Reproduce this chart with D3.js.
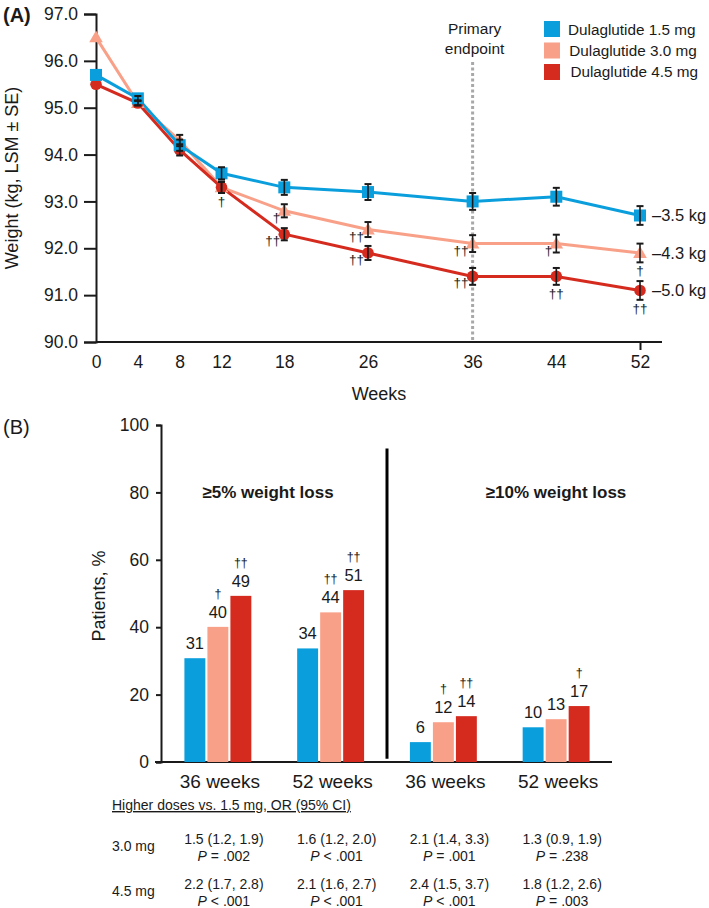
<!DOCTYPE html>
<html><head><meta charset="utf-8">
<script src="https://cdn.jsdelivr.net/npm/d3@7"></script>
<style>
body{margin:0;background:#fff}
svg{display:block}
text{font-family:"Liberation Sans",Arial,sans-serif;fill:#1a1a1a}
</style>
</head><body><svg id="c" width="709" height="908"></svg>
<script>
// ---------- Panel A data ----------
const weeks = [0, 4, 8, 12, 18, 26, 36, 44, 52];
const seriesNames = ["Dulaglutide 1.5 mg", "Dulaglutide 3.0 mg", "Dulaglutide 4.5 mg"];
const colors = ["#0a9fdc", "#f9a088", "#d52b1f"];
const weight15 = [95.7, 95.2, 94.2, 93.6, 93.3, 93.2, 93.0, 93.1, 92.7];
const weight30 = [96.5, 95.1, 94.3, 93.3, 92.8, 92.4, 92.1, 92.1, 91.9];
const weight45 = [95.5, 95.1, 94.1, 93.3, 92.3, 91.9, 91.4, 91.4, 91.1];
const se15 = [0, 0.05, 0.12, 0.13, 0.16, 0.17, 0.18, 0.19, 0.2];
const se30 = [0, 0.05, 0.12, 0.12, 0.14, 0.16, 0.18, 0.19, 0.2];
const se45 = [0, 0.05, 0.12, 0.12, 0.13, 0.15, 0.18, 0.18, 0.2];
const endLabels = ["\u20133.5 kg", "\u20134.3 kg", "\u20135.0 kg"];
const yTicksA = [90, 91, 92, 93, 94, 95, 96, 97];
const sigA = [
  {week: 12, s: 1, mark: "\u2020", pos: "below"},
  {week: 18, s: 1, mark: "\u2020", pos: "left"},
  {week: 18, s: 2, mark: "\u2020\u2020", pos: "left"},
  {week: 26, s: 1, mark: "\u2020\u2020", pos: "left"},
  {week: 26, s: 2, mark: "\u2020\u2020", pos: "left"},
  {week: 36, s: 1, mark: "\u2020\u2020", pos: "left"},
  {week: 36, s: 2, mark: "\u2020\u2020", pos: "left"},
  {week: 44, s: 1, mark: "\u2020", pos: "left"},
  {week: 44, s: 2, mark: "\u2020\u2020", pos: "below"},
  {week: 52, s: 1, mark: "\u2020", pos: "below"},
  {week: 52, s: 2, mark: "\u2020\u2020", pos: "below"}
];
const primaryWeek = 36;

// ---------- Panel B data ----------
const barGroups = ["5-36", "5-52", "10-36", "10-52"];
const barGroupLabels = ["36 weeks", "52 weeks", "36 weeks", "52 weeks"];
const pct15 = [30.8, 33.7, 5.9, 10.3];
const pct30 = [40.1, 44.4, 11.8, 12.7];
const pct45 = [49.3, 51.0, 13.6, 16.6];
const lab15 = ["31", "34", "6", "10"];
const lab30 = ["40", "44", "12", "13"];
const lab45 = ["49", "51", "14", "17"];
const sig30 = ["\u2020", "\u2020\u2020", "\u2020", ""];
const sig45 = ["\u2020\u2020", "\u2020\u2020", "\u2020\u2020", "\u2020"];
const headings = ["\u22655% weight loss", "\u226510% weight loss"];
const yTicksB = [0, 20, 40, 60, 80, 100];

// ---------- Table data ----------
const tableTitle = "Higher doses vs. 1.5 mg, OR (95% CI)";
const rowLabels = ["3.0 mg", "4.5 mg"];
const or30 = ["1.5 (1.2, 1.9)", "1.6 (1.2, 2.0)", "2.1 (1.4, 3.3)", "1.3 (0.9, 1.9)"];
const p30 = ["= .002", "< .001", "= .001", "= .238"];
const or45 = ["2.2 (1.7, 2.8)", "2.1 (1.6, 2.7)", "2.4 (1.5, 3.7)", "1.8 (1.2, 2.6)"];
const p45 = ["< .001", "< .001", "< .001", "= .003"];

const svg = d3.select("#c");
const ink = "#1a1a1a";
const FONT = "Liberation Sans, Arial, sans-serif";

// =================== PANEL A ===================
const xA = d3.scaleLinear().domain([0, 52]).range([96, 640]);
const yA = d3.scaleLinear().domain([90, 97]).range([342, 14]);
const seriesA = [
  {name: seriesNames[0], vals: weight15, se: se15, color: colors[0], shape: "square"},
  {name: seriesNames[1], vals: weight30, se: se30, color: colors[1], shape: "triangle"},
  {name: seriesNames[2], vals: weight45, se: se45, color: colors[2], shape: "circle"}
];

svg.append("text").attr("x", 3).attr("y", 22).attr("font-size", 20).attr("font-weight", "bold").text("(A)");

// y axis
const gyA = svg.append("g").attr("transform", `translate(${xA(0)},0)`)
  .call(d3.axisLeft(yA).tickValues(yTicksA).tickFormat(d3.format(".1f")).tickSize(12).tickPadding(6));
gyA.select(".domain").attr("stroke", ink).attr("stroke-width", 2);
gyA.selectAll(".tick line").attr("stroke", ink).attr("stroke-width", 2);
gyA.selectAll(".tick text").attr("font-size", 17.5).attr("fill", ink).attr("font-family", FONT);

// x axis
const gxA = svg.append("g").attr("transform", `translate(0,${yA(90)})`)
  .call(d3.axisBottom(xA).tickValues(weeks).tickFormat(d3.format("d")).tickSize(8).tickPadding(6));
gxA.select(".domain").remove();
gxA.selectAll(".tick line").attr("stroke", ink).attr("stroke-width", 2).attr("opacity", d => d === 52 ? 1 : 0);
gxA.selectAll(".tick text").attr("font-size", 17.5).attr("fill", ink).attr("font-family", FONT);
svg.append("line").attr("x1", xA(0)).attr("x2", xA(52) + 22).attr("y1", yA(90)).attr("y2", yA(90))
  .attr("stroke", ink).attr("stroke-width", 2);

svg.append("text").attr("x", 379).attr("y", 400).attr("text-anchor", "middle")
  .attr("font-size", 18).text("Weeks");
svg.append("text").attr("transform", `translate(18,${(yA(90) + yA(97)) / 2}) rotate(-90)`)
  .attr("text-anchor", "middle").attr("font-size", 18).text("Weight (kg, LSM \u00b1 SE)");

// primary endpoint line
svg.append("line").attr("x1", xA(primaryWeek)).attr("x2", xA(primaryWeek)).attr("y1", 62).attr("y2", yA(90))
  .attr("stroke", "#a8a8a8").attr("stroke-width", 3).attr("stroke-dasharray", "3,2.5");
svg.append("text").attr("x", xA(primaryWeek) + 2).attr("y", 34).attr("text-anchor", "middle").attr("font-size", 15.5).text("Primary");
svg.append("text").attr("x", xA(primaryWeek) + 2).attr("y", 54).attr("text-anchor", "middle").attr("font-size", 15.5).text("endpoint");

// legend
const leg = svg.append("g");
seriesNames.forEach((n, i) => {
  leg.append("rect").attr("x", 544).attr("y", 21 + i * 21.5).attr("width", 16).attr("height", 16).attr("fill", colors[i]);
  leg.append("text").attr("x", 568 + i * 1.2).attr("y", 34.5 + i * 21).attr("font-size", 15.3).text(n);
});

// lines
const lineGen = d3.line().x((d, i) => xA(weeks[i])).y(d => yA(d));
[1, 2, 0].forEach(si => {
  const s = seriesA[si];
  svg.append("path").attr("d", lineGen(s.vals)).attr("fill", "none").attr("stroke", s.color).attr("stroke-width", 3);
});
// markers
[1, 2, 0].forEach(si => {
  const s = seriesA[si];
  const g = svg.append("g");
  s.vals.forEach((v, i) => {
    const cx = xA(weeks[i]), cy = yA(v);
    if (s.shape === "square") g.append("rect").attr("x", cx - 6).attr("y", cy - 6).attr("width", 12).attr("height", 12).attr("fill", s.color);
    else if (s.shape === "circle") g.append("circle").attr("cx", cx).attr("cy", cy).attr("r", 5.8).attr("fill", s.color);
    else g.append("path").attr("d", d3.symbol(d3.symbolTriangle, 80)()).attr("transform", `translate(${cx},${cy + 1})`).attr("fill", s.color);
  });
});
// error bars
seriesA.forEach(s => {
  const g = svg.append("g").attr("stroke", ink).attr("stroke-width", 1.6);
  s.vals.forEach((v, i) => {
    if (!s.se[i]) return;
    const cx = xA(weeks[i]), y1 = yA(v + s.se[i]), y2 = yA(v - s.se[i]);
    g.append("line").attr("x1", cx).attr("x2", cx).attr("y1", y1).attr("y2", y2);
    g.append("line").attr("x1", cx - 3.5).attr("x2", cx + 3.5).attr("y1", y1).attr("y2", y1).attr("stroke-width", 2);
    g.append("line").attr("x1", cx - 3.5).attr("x2", cx + 3.5).attr("y1", y2).attr("y2", y2).attr("stroke-width", 2);
  });
});
// significance marks
sigA.forEach(a => {
  const s = seriesA[a.s];
  const i = weeks.indexOf(a.week);
  const cx = xA(a.week), cy = yA(s.vals[i]);
  const t = svg.append("text").attr("font-size", 13.5).attr("fill", "#222").text(a.mark);
  if (a.pos === "left") t.attr("x", cx - 4).attr("y", cy + 11).attr("text-anchor", "end");
  else t.attr("x", cx).attr("y", yA(s.vals[i] - s.se[i]) + 13).attr("text-anchor", "middle");
});
// end labels
seriesA.forEach((s, k) => {
  svg.append("text").attr("x", xA(52) + 12).attr("y", yA(s.vals[s.vals.length - 1]) + 6)
    .attr("font-size", 16.5).text(endLabels[k]);
});

// =================== PANEL B ===================
const yB = d3.scaleLinear().domain([0, 100]).range([762, 425]);
const xB = d3.scaleBand().domain(barGroups).range([161.5, 612.5]);
const doses = ["d15", "d30", "d45"];
const xIn = d3.scaleBand().domain(doses).range([-34.5, 34.5]).paddingInner(0.09).paddingOuter(0.045);

svg.append("text").attr("x", 3).attr("y", 434).attr("font-size", 20).text("(B)");

const gyB = svg.append("g").attr("transform", `translate(161,0)`)
  .call(d3.axisLeft(yB).tickValues(yTicksB).tickSize(5).tickPadding(7));
gyB.select(".domain").attr("stroke", ink).attr("stroke-width", 2);
gyB.selectAll(".tick line").attr("stroke", ink).attr("stroke-width", 2);
gyB.selectAll(".tick text").attr("font-size", 17.5).attr("fill", ink).attr("font-family", FONT);
svg.append("line").attr("x1", 155).attr("x2", 612).attr("y1", yB(0)).attr("y2", yB(0)).attr("stroke", ink).attr("stroke-width", 2);

svg.append("text").attr("transform", `translate(105,596) rotate(-90)`).attr("text-anchor", "middle")
  .attr("font-size", 18).text("Patients, %");

// divider
const divX = xB(barGroups[2]);
svg.append("line").attr("x1", divX).attr("x2", divX).attr("y1", yB(93)).attr("y2", yB(1)).attr("stroke", "#000").attr("stroke-width", 3);

svg.append("text").attr("x", 268).attr("y", 498).attr("text-anchor", "middle").attr("font-size", 17).attr("font-weight", "bold").text(headings[0]);
svg.append("text").attr("x", 556).attr("y", 498).attr("text-anchor", "middle").attr("font-size", 17).attr("font-weight", "bold").text(headings[1]);

const barSets = [
  {vals: pct15, labs: lab15, sig: null, color: colors[0], key: "d15"},
  {vals: pct30, labs: lab30, sig: sig30, color: colors[1], key: "d30"},
  {vals: pct45, labs: lab45, sig: sig45, color: colors[2], key: "d45"}
];
barGroups.forEach((gk, gi) => {
  const cx = xB(gk) + xB.bandwidth() / 2;
  barSets.forEach(bs => {
    const x0 = cx + xIn(bs.key);
    const top = yB(bs.vals[gi]);
    svg.append("rect").attr("x", x0).attr("y", top).attr("width", xIn.bandwidth()).attr("height", yB(0) - top).attr("fill", bs.color);
    const lx = x0 + xIn.bandwidth() / 2;
    svg.append("text").attr("x", lx).attr("y", top - 9).attr("text-anchor", "middle").attr("font-size", 16.5).text(bs.labs[gi]);
    if (bs.sig && bs.sig[gi]) {
      svg.append("text").attr("x", lx).attr("y", top - 29).attr("text-anchor", "middle").attr("font-size", 12.5).attr("fill", "#222").text(bs.sig[gi]);
    }
  });
  svg.append("text").attr("x", cx + 2).attr("y", 788).attr("text-anchor", "middle").attr("font-size", 19).text(barGroupLabels[gi]);
});

// =================== TABLE ===================
svg.append("text").attr("x", 112).attr("y", 810).attr("font-size", 14).attr("text-decoration", "underline").text(tableTitle);
const rows = [{or: or30, p: p30}, {or: or45, p: p45}];
rows.forEach((r, ri) => {
  const base = 844 + ri * 45;
  svg.append("text").attr("x", 112).attr("y", base + 7).attr("font-size", 14).text(rowLabels[ri]);
  barGroups.forEach((gk, gi) => {
    const cx = xB(gk) + xB.bandwidth() / 2 + 6;
    svg.append("text").attr("x", cx).attr("y", base).attr("text-anchor", "middle").attr("font-size", 14).text(r.or[gi]);
    const pt = svg.append("text").attr("x", cx).attr("y", base + 16.5).attr("text-anchor", "middle").attr("font-size", 14);
    pt.append("tspan").attr("font-style", "italic").text("P");
    pt.append("tspan").text(" " + r.p[gi]);
  });
});
</script>
</body></html>
